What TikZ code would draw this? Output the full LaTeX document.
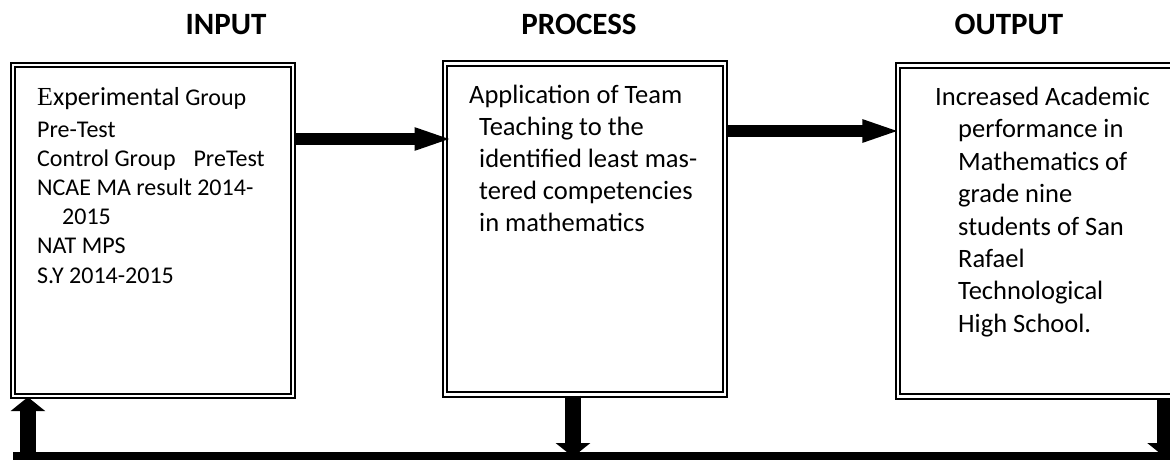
\documentclass[tikz,border=0pt]{standalone}
\usepackage{fontspec}
\setmainfont{Carlito}
\newfontfamily\efont{Liberation Serif}
\usetikzlibrary{arrows.meta}

\begin{document}
\begin{tikzpicture}[
  x=1pt,
  y=-1pt,
  stage/.style={draw, line width=2.2pt, double=white, double distance=2.4pt,
    minimum width=280pt, minimum height=331pt, inner sep=0pt},
  title/.style={anchor=base, inner sep=0pt, font=\fontsize{31}{36}\selectfont\bfseries},
  item/.style={anchor=base west, inner sep=0pt, font=\fontsize{24}{29}\selectfont},
  bigitem/.style={item, font=\fontsize{26.5}{32}\selectfont},
  flow/.style={-{Triangle[length=50pt, width=18pt]}, line width=12pt},
  feed/.style={-{Triangle[length=14pt, width=34pt]}, line width=16pt},
  bar/.style={line width=10pt}
]
  \useasboundingbox (0,0) rectangle (1170,460);
  \clip (0,0) rectangle (1170,460);

  % headings
  \node[title] (tin) at (226,35) {INPUT};
  \node[title] (tproc) at (579,35) {PROCESS};
  \node[title] (tout) at (1009,35) {OUTPUT};

  % the three stages
  \node[stage] (input) at (153,230.5) {};
  \node[stage] (process) at (585,229) {};
  \node[stage] (output) at (1038,231) {};

  % input text
  \node[item] (in0) at (37,105)
    {{\fontsize{26}{30}\selectfont{\efont E}xperimental} Group};
  \foreach \x/\y/\txt [count=\i] in {37/137/Pre-Test,
      37/166/Control Group\hspace{18pt}PreTest,
      37/195/NCAE MA result 2014-, 62/224/2015,
      37/253/NAT MPS, 37/283/S.Y 2014-2015}
    \node[item] (in\i) at (\x,\y) {\txt};

  % process text
  \foreach \x/\y/\txt [count=\i] in {469/103/Application of Team,
      479/135/Teaching to the, 479/167/identified least mas-,
      479/199/tered competencies, 479/231/in mathematics}
    \node[bigitem] (pr\i) at (\x,\y) {\txt};

  % output text
  \foreach \x/\y/\txt [count=\i] in {935/105/Increased Academic,
      958/137/performance in, 958/170/Mathematics of,
      958/202/grade nine, 958/235/students of San, 958/267/Rafael,
      958/299/Technological, 958/332/High School.}
    \node[bigitem] (out\i) at (\x,\y) {\txt};

  % forward arrows
  \draw[flow] ([yshift=91.5pt]input.east) -- ([xshift=20.6pt,yshift=90pt]process.west);
  \draw[flow] ([yshift=98pt]process.east) -- ([xshift=15.5pt,yshift=100pt]output.west);

  % feedback line
  \coordinate (barL) at (13,457);
  \coordinate (barR) at (1180,457);
  \draw[bar] (barL) -- (barR);
  \draw[feed] ([xshift=-12pt]process.south) -- ([xshift=-12pt]process.south |- barL);
  \draw[feed] ([xshift=-14.5pt]output.south east) -- ([xshift=-14.5pt]output.south east |- barL);
  \draw[feed] ([xshift=16pt]input.south west |- barL) -- ([xshift=16pt]input.south west);
\end{tikzpicture}
\end{document}
